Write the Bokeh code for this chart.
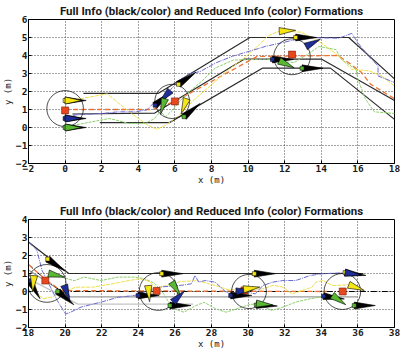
import numpy as np
from bokeh.plotting import figure
from bokeh.models import Range1d, FixedTicker
from bokeh.layouts import column
from bokeh.embed import file_html
from bokeh.resources import INLINE

TITLE = "Full Info (black/color) and Reduced Info (color) Formations"

# ---------------- top panel data ----------------
top_x_ticks = [-2, 0, 2, 4, 6, 8, 10, 12, 14, 16, 18]
top_y_ticks = [-2, -1, 0, 1, 2, 3, 4, 5, 6]

top_lane1_x = [1.0, 4.8, 5.1, 10.1, 15.5, 18.0]
top_lane1_y = [1.9, 1.9, 1.9, 5.0, 5.0, 2.7]
top_lane2_x = [0.4, 4.9, 9.8, 14.0, 18.0]
top_lane2_y = [0.75, 0.8, 3.8, 3.8, 1.5]
top_lane3_x = [1.9, 5.7, 10.8, 14.5, 18.0]
top_lane3_y = [0.27, 0.27, 3.3, 3.3, 0.45]

top_center_x = [0.0, 4.8, 6.0, 10.5, 14.9, 15.5, 16.2, 16.7, 18.0]
top_center_y = [1.0, 1.0, 1.45, 3.95, 4.0, 3.6, 3.05, 2.4, 1.6]

top_yel_x = [0.0, 0.85, 2.3, 2.84, 3.73, 4.47, 5.0, 5.55, 6.27, 7.0, 7.8, 8.8, 10.07, 10.6, 11.1, 11.7,
             12.9, 13.87, 14.8, 15.67, 16.6, 17.3, 18.0]
top_yel_y = [1.5, 1.6, 1.87, 1.42, 0.7, 0.16, -0.1, 0.16, 0.7, 1.5, 2.2, 3.1, 4.1, 4.6, 5.1, 5.35,
             5.3, 4.78, 4.1, 3.23, 3.15, 2.87, 2.3]
top_blu_x = [0.0, 0.58, 2.03, 2.9, 3.83, 4.47, 4.9, 5.5, 6.2, 6.81, 7.36, 8.26, 9.15, 10.97, 13.1,
             14.96, 15.67, 16.0, 16.6, 17.1, 17.1, 18.0]
top_blu_y = [0.5, 0.7, 0.78, 0.87, 0.87, 0.98, 1.42, 1.8, 2.6, 3.0, 3.1, 3.6, 3.96, 4.51, 5.0,
             4.96, 5.23, 4.7, 3.95, 3.42, 2.87, 2.5]
top_grn_x = [0.0, 0.58, 1.49, 2.4, 2.75, 3.47, 4.37, 4.9, 5.2, 5.5, 5.9, 6.3, 6.8, 7.5, 8.2, 9.2, 11.0,
             11.7, 12.5, 13.3, 13.87, 14.8, 15.1, 15.5, 15.9, 16.0, 16.4, 16.9, 18.0]
top_grn_y = [0.0, 0.14, 0.32, 0.5, 0.42, 0.23, 0.23, 0.5, 0.9, 0.6, 1.0, 1.5, 2.0, 2.6, 3.3, 3.75, 3.8,
             3.7, 3.6, 4.1, 4.5, 4.33, 3.78, 3.5, 3.23, 2.69, 1.6, 0.87, 0.78]

top_circ_x = [0.0, 5.85, 12.4]
top_circ_y = [1.05, 1.45, 3.93]
top_circ_r = [1.0, 0.95, 1.0]
top_ctr_x = [0.0, 6.0, 12.4]
top_ctr_y = [0.95, 1.45, 4.05]

# full-info (black) vehicles: x, y, heading (deg), id colour
top_blk_x = [0.0, 0.0, 0.0, 6.2, 4.92, 6.5, 12.6, 11.33, 12.95]
top_blk_y = [1.5, 0.5, 0.0, 2.4, 1.24, 0.6, 5.0, 3.78, 3.29]
top_blk_h = [0, 0, 0, 35, 40, 40, 0, 0, 0]
top_blk_c = ["Y", "B", "G", "Y", "B", "G", "Y", "B", "G"]
# reduced-info (colour) vehicles
top_col_x = [0.0, 0.0, 0.0, 6.65, 5.75, 5.45, 11.7, 13.15, 11.7]
top_col_y = [1.5, 0.5, 0.0, 1.6, 2.05, 1.6, 5.35, 4.5, 3.7]
top_col_h = [0, 0, 0, -110, -132, -105, 3, 27, -25]
top_col_c = ["Y", "B", "G", "Y", "B", "G", "Y", "B", "G"]

# ---------------- bottom panel data ----------------
bot_x_ticks = [18, 20, 22, 24, 26, 28, 30, 32, 34, 36, 38]
bot_y_ticks = [-2, -1, 0, 1, 2, 3, 4]

bot_lane1_x = [18.0, 20.2, 36.3]
bot_lane1_y = [2.75, 1.0, 1.0]
bot_lane2_x = [18.0, 20.3, 36.0]
bot_lane2_y = [1.2, -0.3, -0.3]
bot_lane3_x = [18.0, 20.7, 27.0]
bot_lane3_y = [0.7, -0.7, -0.7]
bot_full_ctr_x = [18.0, 19.0, 19.8, 38.0]
bot_full_ctr_y = [1.5, 0.6, 0.0, 0.0]
bot_center_x = [18.0, 19.0, 19.8, 34.3]
bot_center_y = [1.5, 0.6, 0.05, 0.0]

bot_blu_x = [18.0, 18.46, 18.74, 19.2, 19.57, 20.03, 20.3, 20.86, 21.96, 22.9, 23.8, 24.5, 25.2, 25.8,
             26.4, 26.9, 27.1, 27.3, 27.65, 28.2, 28.8, 29.1, 29.7, 30.4, 30.8, 31.35, 31.9, 32.6, 33.4,
             34.1, 35.2]
bot_blu_y = [2.75, 2.29, 1.17, 0.24, -0.5, -1.25, -1.15, -0.87, -0.59, -0.32, -0.22, 0.05, 0.25, 0.3,
             0.35, 0.43, 0.89, 0.52, 0.61, 0.52, -0.04, -0.13, 0.0, -0.13, 0.33, 0.52, 0.61, 0.61, 0.89,
             0.99, 1.04]
bot_yel_x = [18.3, 18.45, 18.8, 19.3, 19.9, 20.6, 21.5, 22.6, 23.5, 24.1, 24.6, 25.0, 25.6, 26.3, 27.2,
             27.8, 28.3, 28.9, 29.5, 30.8, 31.4, 31.9, 32.4, 33.5, 33.7, 34.1, 34.6, 35.5]
bot_yel_y = [0.8, -0.1, -0.4, -0.3, 0.0, 0.24, 0.24, 0.43, 0.61, 0.71, 0.55, 0.2, 0.35, 0.55, 0.6,
             0.45, 0.3, 0.1, 0.1, 0.15, 0.35, 0.24, -0.13, 0.24, 0.52, 0.61, 0.33, 0.37]
bot_grn_x = [19.8, 20.5, 21.04, 21.96, 22.9, 23.8, 24.35, 24.9, 25.3, 25.6, 25.9, 26.5, 27.1, 27.6,
             28.2, 28.8, 29.4, 30.0, 30.45, 31.3, 31.9, 32.6, 33.4, 33.9, 34.6]
bot_grn_y = [0.8, 0.6, 0.8, 0.61, 0.8, 0.8, 0.71, 0.45, 0.0, -0.5, -0.95, -1.15, -0.8, -0.6,
             -0.95, -1.15, -0.95, -0.75, -0.67, -1.05, -0.87, -0.59, -0.4, -0.32, -0.22]

bot_circ_x = [19.0, 25.1, 30.05, 35.15]
bot_circ_y = [0.45, 0.0, 0.0, 0.0]
bot_circ_r = [1.05, 1.05, 0.95, 1.0]
bot_ctr_x = [18.92, 25.0, 29.8, 35.17]
bot_ctr_y = [0.61, 0.03, 0.06, 0.0]

bot_blk_x = [19.05, 19.6, 18.05, 25.28, 23.99, 25.73, 30.34, 29.05, 30.45, 35.3, 34.12, 35.8]
bot_blk_y = [1.8, 0.0, 0.6, 0.99, -0.22, -0.78, 0.99, -0.22, -0.75, 1.05, -0.26, -0.78]
bot_blk_h = [-35, -40, -60, 0, 0, 0, 0, 0, -3, -8, -8, 0]
bot_blk_c = ["Y", "G", "B", "Y", "B", "G", "Y", "B", "G", "Y", "B", "G"]
bot_col_x = [18.3, 19.1, 19.95, 24.54, 25.83, 25.9, 29.35, 29.75, 30.45, 35.3, 35.5, 34.6]
bot_col_y = [0.88, 1.0, 0.35, 0.33, 0.52, -0.59, 0.0, 0.12, -0.67, 1.05, 0.37, -0.22]
bot_col_h = [-95, -13, -70, -85, -58, 45, 5, 8, -5, -10, -20, -35]
bot_col_c = ["Y", "G", "B", "Y", "G", "B", "B", "Y", "G", "B", "Y", "G"]

# ---------------- styling ----------------
VEH = {"Y": "#f6e616", "B": "#1e2e96", "G": "#58b832"}
TRAJ = {"Y": "#efe04a", "B": "#6a6ad0", "G": "#8fcf70"}
ORANGE = "#f07030"
RED = "#e8481c"
LANE = "#2b2b2b"


def pennants(xs, ys, hs, length, half):
    px, py = [], []
    for x, y, h in zip(xs, ys, hs):
        a = np.deg2rad(h)
        c, s = np.cos(a), np.sin(a)
        px.append([x - half * s, x + half * s, x + length * c])
        py.append([y + half * c, y - half * c, y + length * s])
    return px, py


def make_fig(xr, yr, xt, yt, height, top, bottom):
    p = figure(width=400, height=height, x_range=Range1d(*xr), y_range=Range1d(*yr),
               output_backend="svg", toolbar_location=None,
               min_border_left=27, min_border_right=6, min_border_top=top, min_border_bottom=bottom)
    p.title.text = TITLE
    p.title.align = "center"
    p.title.text_font = "Roboto"
    p.title.text_font_size = "11.5px"
    p.title.text_font_style = "bold"
    p.title.text_color = "#1a1a1a"
    p.title.standoff = 3
    p.title.offset = 0
    for ax, t, lab in ((p.xaxis, xt, "x (m)"), (p.yaxis, yt, "y (m)")):
        ax.ticker = FixedTicker(ticks=t)
        ax.major_label_text_font = "DejaVu Sans Mono"
        ax.major_label_text_font_size = "9.5px"
        ax.major_label_text_font_style = "bold"
        ax.major_label_text_color = "#1a1a1a"
        ax.major_tick_in = 3
        ax.major_tick_out = 0
        ax.minor_tick_line_color = None
        ax.axis_line_color = "black"
        ax.major_tick_line_color = "black"
        ax.axis_label = lab
        ax.axis_label_text_font = "DejaVu Sans Mono"
        ax.axis_label_text_font_size = "9px"
        ax.axis_label_text_font_style = "normal"
        ax.axis_label_text_color = "#1a1a1a"
        ax.axis_label_standoff = 0
        ax.major_label_standoff = 1
    p.xgrid.ticker = FixedTicker(ticks=xt)
    p.ygrid.ticker = FixedTicker(ticks=yt)
    p.grid.grid_line_color = "#444444"
    p.grid.grid_line_dash = "1 2"
    p.grid.grid_line_width = 1
    p.outline_line_color = "black"
    p.outline_line_width = 1
    return p


def draw(p, lanes, extra_dash, center, trajs, circ, ctr, blk, col):
    for lx, ly, colr, w in lanes:
        p.line(lx, ly, line_color=colr, line_width=w)
    if extra_dash is not None:
        p.line(extra_dash[0], extra_dash[1], line_color="black", line_width=1, line_dash="6 2 1 2")
    p.line(center[0], center[1], line_color=ORANGE, line_width=1.3, line_dash="5 3")
    for k, (tx, ty) in trajs.items():
        dash = {"Y": "4 1", "B": "5 1 1 1", "G": "3 1"}[k]
        p.line(tx, ty, line_color=TRAJ[k], line_width=1, line_dash=dash)
    cx, cy, cr = circ
    p.ellipse(cx, cy, width=[2 * r for r in cr], height=[2 * r for r in cr],
              fill_color=None, line_color="#222222", line_width=0.8)
    p.scatter(ctr[0], ctr[1], marker="square", size=7, fill_color=RED, line_color="#7a2010",
              line_width=0.6)
    bx, by, bh, bc = blk
    xs, ys = pennants(bx, by, bh, 1.15, 0.19)
    p.patches(xs, ys, fill_color="black", line_color="black", line_width=0.6)
    p.scatter(bx, by, marker="square", size=4, fill_color=[VEH[c] for c in bc],
              line_color="black", line_width=0.5)
    qx, qy, qh, qc = col
    xs, ys = pennants(qx, qy, qh, 0.9, 0.2)
    p.patches(xs, ys, fill_color=[VEH[c] for c in qc], line_color="black", line_width=0.6)


p1 = make_fig((-2, 18), (-2, 6), top_x_ticks, top_y_ticks, 191, 17, 28)
draw(p1,
     [(top_lane1_x, top_lane1_y, LANE, 1.2), (top_lane2_x, top_lane2_y, LANE, 1.2),
      (top_lane3_x, top_lane3_y, LANE, 1.2)],
     None, (top_center_x, top_center_y),
     {"Y": (top_yel_x, top_yel_y), "B": (top_blu_x, top_blu_y), "G": (top_grn_x, top_grn_y)},
     (top_circ_x, top_circ_y, top_circ_r), (top_ctr_x, top_ctr_y),
     (top_blk_x, top_blk_y, top_blk_h, top_blk_c), (top_col_x, top_col_y, top_col_h, top_col_c))

p2 = make_fig((18, 38), (-2, 4), bot_x_ticks, bot_y_ticks, 163, 28, 27)
draw(p2,
     [(bot_lane1_x, bot_lane1_y, LANE, 1.2), (bot_lane2_x, bot_lane2_y, "#9a9a9a", 1.2),
      (bot_lane3_x, bot_lane3_y, "#c4c4c4", 1.2)],
     (bot_full_ctr_x, bot_full_ctr_y), (bot_center_x, bot_center_y),
     {"Y": (bot_yel_x, bot_yel_y), "B": (bot_blu_x, bot_blu_y), "G": (bot_grn_x, bot_grn_y)},
     (bot_circ_x, bot_circ_y, bot_circ_r), (bot_ctr_x, bot_ctr_y),
     (bot_blk_x, bot_blk_y, bot_blk_h, bot_blk_c), (bot_col_x, bot_col_y, bot_col_h, bot_col_c))

layout = column(p1, p2, spacing=0)
open("out.html", "w").write(file_html(layout, INLINE))
